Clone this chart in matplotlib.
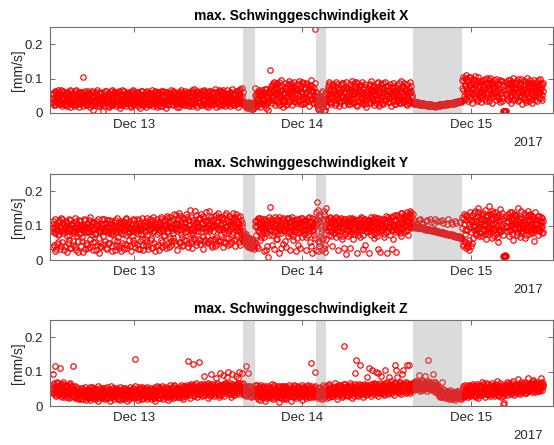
import matplotlib
matplotlib.use("Agg")
import matplotlib.pyplot as plt
import matplotlib.dates as mdates
import numpy as np
import pandas as pd

plt.rcParams['font.family'] = ['Liberation Sans', 'DejaVu Sans']

# two interleaved readings per 6 minutes (second one 3 min later), values in um/s (= 0.001 mm/s)
t_start = "2017-12-12 12:20"
t_step = "6min"
t_offset = "3min"

vx_um = [
    42, 28, 55, 36, 63, 22, 47, 58, 31, 66,
    25, 51, 39, 68, 19, 44, 60, 33, 53, 27,
    48, 62, 21, 37, 56, 45, 17, 64, 30, 50,
    35, 59, 26, 46, 67, 23, 40, 54, 18, 61,
    43, 29, 57, 34, 20, 104, 49, 65, 38, 24,
    52, 32, 63, 41, 16, 55, 27, 47, 60, 8,
    37, 58, 22, 45, 66, 30, 50, 19, 43, 62,
    26, 49, 35, 7, 57, 40, 21, 64, 33, 53,
    46, 18, 59, 29, 42, 67, 24, 38, 55, 31,
    61, 36, 20, 51, 44, 27, 63, 15, 48, 34,
    23, 56, 40, 65, 30, 47, 19, 58, 37, 52,
    41, 28, 62, 17, 53, 35, 66, 25, 45, 57,
    32, 50, 21, 60, 39, 14, 55, 43, 26, 64,
    48, 24, 58, 36, 18, 52, 63, 30, 41, 22,
    57, 33, 45, 67, 20, 49, 28, 61, 38, 16,
    44, 62, 25, 39, 54, 31, 65, 19, 47, 35,
    27, 53, 41, 15, 60, 37, 23, 56, 44, 68,
    50, 34, 64, 22, 46, 29, 58, 40, 18, 61,
    39, 17, 55, 43, 66, 26, 51, 32, 59, 24,
    63, 45, 28, 54, 37, 20, 62, 48, 31, 67,
    21, 57, 40, 69, 29, 52, 16, 44, 60, 35,
    47, 30, 63, 24, 56, 41, 68, 27, 50, 19,
    36, 62, 18, 49, 33, 65, 43, 22, 58, 39,
    54, 26, 70, 38, 17, 61, 31, 47, 25, 64,
    42, 58, 23, 52, 66, 35, 19, 56, 45, 29,
    67, 32, 48, 20, 60, 40, 71, 27, 53, 37,
    24, 55, 41, 64, 30, 18, 57, 46, 69, 33,
    49, 73, 34, 28, 22, 31, 19, 26, 14, 30,
    24, 17, 29, 12, 21, 27, 15, 23, 32, 72,
    38, 55, 21, 63, 44, 30, 58, 17, 49, 66,
    26, 52, 40, 69, 33, 15, 60, 45, 8, 57,
    71, 125, 47, 82, 29, 64, 90, 38, 75, 55,
    43, 86, 60, 24, 78, 51, 95, 35, 68, 18,
    62, 33, 88, 47, 72, 27, 57, 93, 40, 80,
    52, 76, 22, 65, 45, 89, 31, 70, 58, 84,
    37, 68, 92, 50, 26, 79, 61, 42, 87, 30,
    74, 46, 58, 85, 34, 66, 20, 81, 53, 96,
    41, 77, 63, 29, 88, 243, 45, 22, 58, 12,
    35, 8, 50, 27, 64, 16, 40, 5, 30, 55,
    20, 62, 44, 78, 31, 85, 56, 25, 70, 48,
    83, 37, 66, 52, 90, 28, 74, 43, 60, 19,
    58, 81, 34, 69, 46, 88, 23, 63, 39, 76,
    49, 26, 72, 55, 84, 35, 67, 92, 41, 57,
    30, 78, 61, 45, 87, 21, 53, 70, 36, 82,
    65, 42, 89, 27, 59, 75, 48, 16, 68, 51,
    38, 80, 56, 33, 71, 94, 44, 62, 24, 77,
    54, 29, 67, 86, 40, 58, 19, 73, 47, 83,
    72, 46, 25, 61, 90, 37, 79, 52, 31, 66,
    43, 85, 57, 20, 74, 49, 88, 34, 63, 27,
    60, 36, 81, 53, 28, 70, 45, 93, 39, 76,
    50, 87, 32, 68, 57, 22, 84, 41, 72, 59,
    35, 78, 63, 46, 30, 27, 33, 25, 31, 28,
    32, 26, 29, 24, 30, 27, 23, 28, 25, 29,
    24, 27, 22, 26, 21, 25, 23, 20, 26, 22,
    21, 24, 19, 23, 20, 22, 18, 24, 21, 23,
    22, 25, 21, 26, 23, 24, 22, 27, 24, 26,
    25, 28, 24, 29, 26, 27, 25, 30, 27, 29,
    28, 31, 27, 32, 29, 30, 28, 34, 31, 33,
    32, 35, 33, 37, 96, 68, 105, 42, 84, 58,
    110, 74, 36, 92, 61, 104, 48, 85, 30, 71,
    99, 55, 81, 108, 44, 67, 93, 38, 76, 60,
    86, 33, 70, 52, 97, 63, 41, 88, 57, 102,
    47, 79, 95, 35, 68, 54, 90, 28, 73, 61,
    83, 58, 39, 100, 66, 49, 87, 71, 31, 94,
    62, 45, 78, 6, 5, 7, 6, 91, 53, 84,
    37, 72, 96, 56, 29, 80, 64, 103, 42, 69,
    89, 51, 74, 34, 98, 60, 46, 82, 67, 27,
    58, 92, 40, 71, 85, 33, 63, 101, 50, 77,
    44, 68, 87, 55, 30, 79, 95, 48, 73, 61,
    90, 36, 65, 82, 57, 99, 43, 70, 52, 86,
]

vx2_um = [
    33, 57, 45, 24, 60, 39, 52, 29, 48, 35,
    61, 38, 26, 55, 47, 30, 64, 41, 22, 58,
    36, 27, 53, 44, 31, 66, 39, 25, 57, 42,
    50, 21, 63, 38, 29, 56, 47, 33, 62, 26,
    55, 37, 46, 61, 28, 43, 35, 52, 30, 59,
    24, 45, 38, 57, 33, 41, 64, 22, 36, 49,
    46, 29, 62, 34, 53, 21, 40, 57, 27, 35,
    59, 37, 44, 26, 48, 63, 31, 52, 42, 20,
    33, 54, 40, 63, 23, 51, 45, 28, 61, 39,
    27, 48, 57, 35, 60, 38, 22, 53, 41, 66,
    49, 32, 25, 51, 43, 58, 36, 44, 28, 61,
    55, 20, 47, 38, 63, 24, 42, 56, 33, 29,
    44, 61, 37, 27, 52, 48, 31, 65, 39, 23,
    36, 53, 29, 46, 62, 40, 25, 55, 33, 59,
    25, 48, 39, 30, 56, 36, 64, 44, 22, 51,
    58, 31, 52, 47, 21, 60, 41, 35, 63, 28,
    39, 62, 30, 56, 44, 25, 49, 35, 57, 42,
    27, 45, 53, 36, 61, 40, 32, 54, 26, 48,
    51, 34, 26, 60, 31, 45, 58, 22, 43, 55,
    35, 55, 41, 23, 62, 50, 33, 57, 39, 26,
    60, 28, 49, 36, 54, 24, 63, 33, 47, 56,
    32, 59, 22, 51, 38, 64, 34, 48, 62, 29,
    50, 27, 44, 65, 25, 53, 31, 60, 35, 46,
    28, 61, 39, 49, 57, 33, 52, 20, 66, 40,
    63, 34, 50, 29, 45, 59, 27, 48, 34, 55,
    41, 54, 26, 62, 35, 50, 30, 57, 44, 22,
    56, 38, 63, 25, 49, 42, 66, 31, 54, 45,
    36, 62, 27, 33, 20, 29, 24, 17, 28, 21,
    31, 20, 26, 16, 30, 22, 13, 28, 19, 52,
    47, 30, 62, 41, 26, 68, 35, 54, 28, 40,
    60, 37, 55, 23, 48, 71, 29, 52, 64, 34,
    58, 39, 77, 50, 86, 42, 69, 24, 61, 84,
    70, 53, 32, 91, 46, 63, 27, 79, 55, 41,
    36, 75, 59, 23, 66, 84, 49, 31, 72, 58,
    88, 40, 62, 79, 34, 57, 74, 45, 29, 67,
    55, 83, 36, 71, 60, 44, 90, 25, 69, 48,
    32, 62, 86, 41, 77, 52, 70, 37, 64, 43,
    68, 28, 51, 73, 39, 60, 33, 48, 15, 40,
    25, 44, 12, 58, 34, 20, 48, 28, 10, 38,
    42, 36, 71, 55, 90, 47, 64, 33, 81, 59,
    46, 68, 24, 77, 56, 41, 85, 53, 35, 70,
    28, 63, 50, 87, 37, 59, 72, 44, 91, 33,
    71, 38, 61, 43, 27, 76, 52, 31, 64, 86,
    54, 67, 24, 90, 48, 63, 36, 79, 57, 44,
    80, 33, 55, 70, 38, 84, 25, 61, 46, 72,
    62, 47, 29, 85, 53, 41, 76, 35, 67, 52,
    37, 74, 60, 45, 91, 27, 64, 50, 82, 30,
    56, 88, 41, 70, 34, 59, 48, 65, 77, 43,
    68, 31, 76, 48, 62, 35, 56, 79, 25, 54,
    45, 72, 39, 64, 87, 51, 29, 61, 74, 33,
    78, 42, 66, 26, 71, 46, 62, 53, 30, 89,
    60, 47, 52, 29, 33, 29, 27, 32, 26, 30,
    28, 31, 25, 28, 26, 30, 27, 24, 29, 26,
    25, 23, 27, 24, 22, 26, 21, 24, 23, 25,
    22, 20, 23, 21, 24, 19, 22, 20, 23, 21,
    24, 23, 25, 22, 26, 23, 25, 24, 26, 25,
    27, 26, 28, 25, 29, 27, 28, 26, 30, 28,
    30, 29, 31, 28, 32, 30, 33, 31, 32, 34,
    34, 33, 36, 35, 72, 92, 50, 78, 101, 40,
    63, 98, 55, 80, 106, 42, 75, 96, 57, 88,
    73, 48, 95, 62, 86, 35, 104, 57, 82, 50,
    64, 92, 45, 80, 58, 75, 99, 36, 69, 84,
    88, 54, 71, 101, 43, 85, 62, 78, 49, 96,
    57, 76, 91, 46, 83, 62, 40, 97, 55, 74,
    93, 35, 68, 7, 6, 6, 59, 80, 44, 97,
    60, 86, 47, 78, 65, 91, 38, 74, 58, 83,
    45, 69, 92, 57, 76, 38, 87, 52, 99, 64,
    80, 47, 66, 93, 39, 74, 55, 86, 61, 35,
    96, 58, 77, 42, 88, 63, 50, 83, 37, 70,
    54, 78, 97, 45, 72, 61, 88, 38, 80, 65,
]

vy_um = [
    92, 38, 105, 81, 27, 118, 88, 46, 99, 74,
    110, 85, 33, 96, 120, 52, 78, 102, 41, 90,
    83, 24, 107, 94, 58, 72, 115, 36, 88, 101,
    45, 97, 79, 121, 30, 86, 104, 55, 93, 76,
    113, 40, 91, 68, 100, 22, 84, 117, 49, 95,
    80, 106, 35, 89, 124, 61, 98, 73, 28, 109,
    94, 53, 77, 112, 43, 87, 103, 19, 96, 82,
    37, 101, 90, 71, 119, 56, 84, 108, 32, 97,
    85, 116, 48, 93, 75, 26, 104, 88, 59, 111,
    99, 42, 82, 122, 66, 95, 34, 107, 79, 91,
    50, 114, 87, 31, 100, 73, 118, 44, 92, 105,
    78, 96, 25, 109, 84, 57, 120, 90, 38, 98,
    103, 47, 93, 76, 115, 33, 86, 101, 62, 89,
    29, 110, 80, 97, 52, 123, 74, 41, 106, 94,
    88, 64, 117, 36, 99, 83, 108, 27, 92, 76,
    119, 45, 95, 81, 105, 58, 125, 39, 87, 100,
    71, 102, 34, 93, 128, 49, 85, 111, 63, 97,
    43, 96, 120, 78, 55, 107, 89, 132, 30, 104,
    91, 138, 50, 86, 113, 67, 99, 44, 118, 82,
    108, 57, 94, 126, 39, 101, 75, 145, 48, 92,
    35, 115, 88, 60, 104, 130, 52, 97, 84, 121,
    99, 46, 135, 80, 109, 31, 94, 123, 58, 87,
    112, 71, 53, 102, 141, 89, 44, 117, 95, 62,
    84, 127, 40, 98, 66, 110, 136, 54, 91, 105,
    56, 93, 119, 38, 107, 82, 131, 49, 100, 115,
    97, 64, 128, 90, 47, 113, 76, 104, 138, 59,
    120, 42, 88, 109, 70, 125, 51, 96, 83, 116,
    62, 100, 78, 70, 58, 66, 48, 75, 40, 55,
    45, 63, 38, 52, 35, 60, 42, 50, 33, 112,
    98, 74, 115, 88, 36, 106, 93, 121, 67, 102,
    85, 110, 27, 96, 119, 79, 104, 41, 9, 90,
    108, 154, 87, 72, 116, 95, 33, 101, 124, 83,
    94, 62, 112, 89, 20, 105, 78, 118, 99, 46,
    117, 86, 100, 38, 92, 123, 70, 96, 110, 81,
    75, 103, 91, 115, 58, 84, 107, 25, 97, 120,
    99, 43, 109, 80, 122, 94, 66, 113, 88, 104,
    87, 116, 30, 98, 74, 106, 125, 52, 92, 111,
    19, 100, 83, 118, 95, 64, 140, 168, 105, 25,
    130, 40, 110, 70, 90, 60, 118, 35, 135, 22,
    150, 101, 88, 117, 73, 97, 124, 85, 109, 40,
    93, 112, 79, 121, 66, 103, 88, 115, 28, 98,
    84, 107, 96, 62, 119, 90, 104, 76, 111, 17,
    102, 70, 116, 87, 99, 35, 110, 82, 121, 94,
    77, 113, 91, 105, 20, 97, 86, 118, 68, 101,
    108, 88, 123, 74, 100, 115, 43, 93, 106, 81,
    95, 19, 104, 117, 85, 72, 111, 98, 126, 64,
    112, 89, 78, 101, 122, 33, 96, 108, 83, 117,
    86, 103, 119, 67, 94, 110, 80, 21, 125, 99,
    116, 74, 97, 106, 88, 128, 61, 102, 90, 113,
    22, 99, 131, 84, 109, 93, 120, 70, 105, 136,
    95, 118, 81, 127, 102, 140, 88, 112, 133, 97,
    121, 104, 138, 92, 99, 97, 115, 96, 94, 108,
    97, 95, 117, 93, 96, 92, 94, 110, 91, 93,
    90, 92, 88, 112, 89, 91, 87, 90, 119, 86,
    88, 85, 87, 84, 108, 86, 83, 85, 82, 114,
    83, 80, 82, 79, 81, 116, 78, 80, 77, 79,
    76, 78, 105, 75, 77, 74, 76, 73, 111, 75,
    72, 70, 73, 69, 71, 68, 107, 70, 67, 69,
    66, 64, 67, 63, 92, 118, 41, 105, 76, 130,
    35, 88, 48, 122, 30, 97, 139, 42, 110, 65,
    115, 86, 142, 101, 73, 128, 94, 150, 80, 107,
    96, 133, 69, 118, 104, 86, 145, 77, 124, 91,
    128, 82, 110, 156, 93, 120, 65, 102, 137, 88,
    106, 140, 75, 97, 125, 53, 113, 89, 148, 99,
    84, 118, 92, 12, 10, 14, 11, 127, 96, 134,
    112, 71, 139, 103, 86, 122, 58, 108, 95, 130,
    90, 126, 81, 114, 152, 97, 68, 119, 104, 85,
    121, 94, 107, 63, 131, 88, 116, 99, 143, 76,
    100, 134, 87, 111, 79, 125, 93, 56, 118, 105,
    92, 117, 72, 103, 128, 86, 110, 97, 122, 80,
]

vy2_um = [
    85, 112, 44, 97, 79, 31, 104, 90, 52, 116,
    75, 98, 121, 40, 88, 107, 83, 29, 95, 113,
    99, 70, 87, 48, 118, 93, 35, 102, 80, 55,
    108, 84, 37, 96, 112, 71, 24, 89, 117, 100,
    78, 103, 92, 55, 86, 120, 97, 33, 81, 106,
    45, 95, 116, 82, 39, 99, 87, 111, 53, 90,
    110, 79, 28, 101, 92, 118, 64, 85, 42, 104,
    93, 120, 84, 47, 106, 88, 35, 97, 115, 78,
    50, 96, 105, 82, 114, 40, 92, 75, 99, 30,
    117, 86, 55, 101, 91, 44, 113, 83, 26, 108,
    95, 77, 104, 46, 89, 121, 36, 98, 83, 58,
    112, 42, 91, 103, 70, 87, 50, 116, 94, 80,
    86, 119, 31, 99, 108, 55, 92, 76, 122, 43,
    102, 88, 60, 114, 45, 95, 110, 33, 90, 118,
    57, 101, 93, 82, 125, 49, 104, 96, 40, 111,
    90, 107, 29, 98, 86, 119, 53, 92, 113, 74,
    115, 45, 104, 121, 80, 98, 37, 126, 94, 55,
    87, 112, 64, 101, 135, 93, 47, 109, 83, 118,
    52, 99, 127, 77, 106, 40, 121, 94, 59, 110,
    96, 133, 84, 49, 115, 102, 88, 56, 124, 79,
    107, 73, 98, 141, 45, 111, 92, 62, 118, 100,
    58, 122, 92, 104, 69, 128, 51, 113, 97, 140,
    93, 48, 116, 85, 108, 59, 125, 101, 38, 99,
    119, 103, 62, 132, 94, 47, 112, 87, 126, 56,
    101, 76, 124, 91, 55, 118, 97, 137, 63, 88,
    45, 110, 85, 102, 121, 52, 95, 117, 80, 125,
    99, 133, 61, 92, 114, 88, 106, 43, 129, 77,
    108, 55, 85, 64, 72, 52, 68, 44, 62, 38,
    57, 47, 65, 36, 54, 44, 58, 37, 48, 98,
    113, 40, 96, 122, 81, 109, 58, 100, 118, 77,
    94, 117, 66, 104, 88, 30, 112, 97, 125, 72,
    100, 86, 119, 44, 97, 108, 81, 115, 62, 105,
    118, 79, 96, 125, 87, 102, 35, 110, 91, 123,
    84, 109, 55, 103, 118, 79, 99, 121, 28, 95,
    112, 89, 126, 71, 104, 95, 117, 86, 108, 64,
    80, 118, 97, 36, 110, 85, 123, 100, 75, 114,
    104, 66, 115, 89, 121, 94, 83, 110, 40, 98,
    122, 91, 107, 73, 113, 101, 30, 120, 55, 145,
    50, 125, 80, 100, 28, 112, 65, 142, 45, 95,
    60, 118, 95, 107, 84, 121, 99, 70, 114, 88,
    119, 79, 104, 92, 126, 84, 110, 97, 118, 73,
    101, 123, 69, 112, 97, 108, 35, 118, 90, 105,
    85, 111, 96, 123, 75, 103, 118, 91, 60, 114,
    120, 94, 110, 82, 117, 101, 73, 108, 95, 126,
    91, 104, 33, 116, 89, 98, 120, 84, 113, 100,
    116, 83, 109, 92, 125, 101, 88, 119, 76, 107,
    97, 121, 104, 71, 110, 92, 118, 24, 103, 89,
    108, 93, 76, 118, 100, 127, 96, 114, 85, 120,
    92, 110, 124, 87, 31, 103, 117, 95, 130, 82,
    119, 86, 105, 125, 96, 78, 112, 138, 89, 118,
    108, 131, 99, 84, 122, 113, 74, 125, 104, 142,
    95, 128, 110, 135, 100, 98, 96, 113, 95, 97,
    96, 94, 95, 118, 93, 95, 92, 94, 106, 91,
    91, 89, 90, 88, 115, 89, 86, 88, 87, 110,
    86, 87, 84, 86, 83, 118, 84, 82, 83, 81,
    81, 82, 112, 80, 78, 81, 79, 109, 78, 77,
    77, 75, 76, 119, 74, 75, 72, 74, 73, 106,
    71, 69, 72, 70, 113, 68, 69, 67, 68, 66,
    65, 110, 64, 62, 125, 47, 135, 88, 52, 115,
    45, 128, 37, 104, 58, 115, 82, 132, 50, 98,
    136, 95, 122, 79, 113, 88, 140, 104, 69, 119,
    110, 78, 127, 90, 138, 99, 115, 62, 106, 131,
    75, 117, 99, 134, 84, 108, 143, 92, 120, 70,
    124, 91, 118, 67, 103, 132, 86, 116, 80, 127,
    102, 137, 74, 13, 12, 11, 95, 112, 83, 121,
    88, 125, 99, 117, 140, 76, 103, 135, 90, 114,
    130, 106, 72, 98, 121, 110, 89, 142, 78, 101,
    84, 112, 136, 92, 105, 74, 127, 93, 110, 131,
    116, 82, 102, 128, 95, 119, 87, 106, 140, 90,
    107, 129, 94, 83, 113, 101, 124, 79, 99, 112,
]

vz_um = [
    45, 62, 93, 38, 57, 116, 29, 68, 50, 41,
    55, 34, 110, 63, 47, 26, 71, 42, 58, 36,
    48, 30, 60, 39, 52, 24, 66, 44, 35, 57,
    116, 28, 47, 22, 40, 55, 31, 19, 45, 37,
    26, 43, 34, 52, 20, 38, 48, 29, 41, 17,
    36, 24, 46, 31, 55, 18, 40, 27, 50, 33,
    44, 21, 35, 49, 28, 38, 15, 43, 32, 53,
    30, 47, 23, 37, 42, 19, 51, 34, 26, 40,
    22, 39, 48, 16, 33, 45, 27, 52, 36, 29,
    41, 25, 34, 50, 20, 38, 44, 18, 31, 47,
    35, 53, 28, 40, 24, 46, 32, 14, 43, 37,
    19, 42, 33, 48, 27, 36, 51, 22, 39, 137,
    45, 26, 38, 17, 49, 31, 41, 28, 54, 34,
    23, 40, 30, 46, 35, 20, 44, 37, 25, 50,
    38, 52, 21, 33, 43, 27, 48, 16, 36, 42,
    29, 45, 37, 55, 24, 39, 31, 47, 20, 41,
    50, 33, 26, 44, 36, 18, 53, 30, 46, 28,
    35, 48, 40, 22, 57, 38, 27, 45, 32, 52,
    43, 25, 55, 36, 30, 49, 41, 19, 58, 34,
    28, 51, 38, 46, 130, 33, 56, 24, 44, 60,
    39, 123, 48, 30, 62, 41, 25, 53, 36, 128,
    57, 34, 46, 65, 28, 52, 40, 88, 33, 59,
    45, 63, 22, 50, 37, 58, 92, 31, 55, 42,
    61, 29, 48, 82, 40, 66, 35, 53, 25, 97,
    38, 56, 44, 62, 90, 30, 51, 68, 43, 85,
    52, 99, 34, 58, 46, 27, 64, 94, 39, 55,
    31, 49, 86, 60, 42, 67, 100, 36, 54, 46,
    63, 97, 41, 50, 35, 57, 28, 115, 48, 95,
    38, 52, 30, 45, 26, 55, 34, 48, 42, 36,
    29, 47, 60, 21, 40, 53, 33, 17, 45, 56,
    42, 25, 36, 58, 14, 49, 31, 44, 27, 52,
    34, 55, 22, 40, 48, 19, 61, 37, 30, 46,
    50, 28, 43, 12, 54, 35, 24, 47, 39, 57,
    26, 45, 59, 33, 20, 51, 41, 30, 62, 38,
    47, 16, 38, 53, 29, 44, 57, 23, 36, 49,
    32, 58, 41, 25, 50, 35, 18, 54, 43, 28,
    55, 37, 22, 48, 31, 60, 40, 27, 46, 126,
    34, 51, 25, 43, 57, 98, 30, 47, 38, 22,
    45, 29, 52, 36, 20, 48, 33, 55, 27, 41,
    58, 39, 24, 50, 44, 63, 31, 47, 36, 55,
    28, 52, 41, 66, 35, 45, 20, 59, 48, 38,
    61, 33, 49, 26, 55, 43, 174, 37, 64, 46,
    40, 57, 30, 52, 68, 36, 47, 23, 59, 44,
    53, 95, 38, 134, 46, 62, 29, 50, 120, 41,
    35, 58, 48, 27, 65, 43, 54, 32, 61, 85,
    47, 110, 56, 39, 63, 30, 105, 51, 44, 67,
    58, 100, 34, 53, 42, 95, 60, 37, 49, 86,
    40, 64, 52, 31, 57, 105, 45, 69, 36, 55,
    62, 43, 50, 73, 38, 58, 47, 33, 66, 120,
    105, 85, 54, 41, 60, 48, 70, 35, 57, 92,
    105, 45, 63, 52, 39, 68, 118, 56, 44, 120,
    37, 60, 49, 65, 55, 68, 48, 72, 58, 63,
    50, 66, 57, 90, 45, 70, 53, 61, 74, 47,
    59, 88, 52, 67, 44, 63, 134, 56, 71, 49,
    62, 46, 58, 92, 51, 69, 42, 60, 55, 38,
    45, 30, 52, 25, 40, 35, 70, 28, 47, 33,
    22, 38, 30, 44, 26, 35, 19, 41, 32, 27,
    36, 24, 42, 29, 18, 39, 31, 45, 23, 34,
    28, 40, 21, 33, 47, 30, 58, 25, 43, 36,
    52, 34, 46, 27, 60, 39, 55, 31, 48, 65,
    41, 57, 29, 50, 36, 63, 44, 22, 54, 38,
    60, 33, 47, 70, 40, 53, 26, 58, 45, 35,
    49, 64, 37, 55, 30, 46, 67, 42, 59, 28,
    36, 52, 61, 41, 74, 33, 50, 44, 57, 25,
    55, 43, 30, 5, 48, 62, 38, 53, 69, 40,
    46, 66, 52, 35, 58, 42, 73, 49, 31, 61,
    60, 38, 50, 78, 44, 56, 36, 65, 47, 54,
    42, 63, 55, 48, 71, 39, 59, 52, 82, 45,
    58, 47, 66, 40, 53, 75, 44, 62, 50, 68,
    51, 70, 45, 59, 64, 48, 80, 55, 61, 57,
]

vz2_um = [
    52, 38, 66, 47, 31, 59, 43, 70, 36, 55,
    44, 61, 29, 52, 40, 65, 33, 49, 27, 60,
    37, 55, 45, 27, 63, 41, 50, 32, 58, 42,
    30, 49, 38, 57, 26, 44, 35, 52, 24, 46,
    40, 21, 53, 35, 45, 28, 56, 33, 47, 25,
    29, 50, 37, 22, 43, 48, 32, 54, 23, 42,
    51, 34, 27, 45, 39, 57, 24, 36, 46, 30,
    38, 25, 53, 29, 47, 33, 41, 22, 55, 35,
    46, 30, 36, 57, 25, 41, 50, 34, 19, 44,
    28, 52, 43, 24, 47, 32, 56, 37, 45, 23,
    42, 20, 48, 34, 53, 29, 39, 50, 27, 46,
    33, 55, 26, 41, 36, 49, 25, 44, 57, 31,
    38, 47, 30, 55, 24, 42, 36, 51, 21, 45,
    49, 32, 53, 27, 41, 56, 29, 48, 39, 33,
    31, 45, 28, 50, 37, 22, 54, 33, 46, 57,
    43, 24, 51, 33, 47, 36, 58, 26, 40, 34,
    37, 56, 41, 29, 52, 45, 33, 61, 24, 49,
    55, 28, 47, 60, 32, 44, 53, 36, 49, 27,
    31, 48, 37, 52, 62, 26, 45, 57, 35, 50,
    54, 39, 62, 31, 45, 58, 40, 49, 64, 37,
    47, 58, 33, 55, 44, 66, 38, 50, 59, 45,
    36, 62, 52, 41, 57, 33, 64, 47, 55, 38,
    58, 40, 66, 45, 30, 61, 49, 36, 63, 52,
    43, 55, 35, 60, 52, 44, 58, 31, 47, 62,
    60, 33, 52, 41, 65, 48, 37, 57, 64, 46,
    38, 61, 47, 68, 35, 56, 43, 62, 50, 33,
    57, 44, 65, 37, 53, 82, 46, 59, 64, 40,
    49, 66, 55, 31, 46, 38, 52, 44, 33, 58,
    45, 29, 57, 40, 35, 50, 28, 43, 37, 61,
    53, 35, 27, 49, 58, 32, 45, 62, 38, 25,
    36, 55, 44, 30, 52, 23, 41, 57, 34, 48,
    50, 28, 45, 63, 33, 56, 42, 25, 52, 38,
    31, 59, 36, 47, 26, 44, 58, 33, 21, 49,
    55, 37, 24, 51, 43, 32, 48, 56, 35, 28,
    40, 52, 45, 27, 61, 38, 30, 47, 55, 35,
    48, 25, 55, 44, 37, 60, 46, 33, 51, 40,
    29, 50, 42, 57, 36, 26, 53, 45, 35, 59,
    46, 38, 55, 30, 42, 33, 49, 28, 52, 37,
    30, 55, 40, 24, 48, 38, 60, 32, 45, 35,
    42, 50, 33, 61, 27, 52, 45, 38, 56, 30,
    51, 36, 55, 43, 58, 30, 49, 40, 62, 35,
    44, 58, 37, 50, 29, 63, 41, 52, 33, 57,
    59, 32, 48, 41, 55, 46, 61, 38, 52, 28,
    37, 63, 45, 56, 33, 50, 43, 65, 35, 54,
    60, 41, 53, 46, 34, 57, 49, 62, 40, 48,
    36, 52, 45, 61, 50, 42, 35, 58, 63, 45,
    50, 63, 42, 55, 30, 48, 68, 44, 57, 39,
    62, 45, 58, 35, 66, 52, 39, 60, 47, 85,
    40, 55, 64, 48, 57, 43, 66, 52, 45, 61,
    55, 48, 62, 50, 38, 67, 53, 60, 44, 65,
    47, 60, 51, 71, 56, 42, 58, 65, 50, 63,
    53, 44, 66, 50, 62, 52, 70, 57, 66, 50,
    73, 55, 62, 48, 68, 58, 76, 52, 65, 59,
    64, 53, 70, 60, 56, 74, 50, 66, 58, 68,
    55, 65, 48, 71, 60, 52, 64, 45, 57, 50,
    38, 48, 32, 44, 27, 41, 36, 50, 30, 39,
    33, 25, 43, 31, 38, 24, 46, 29, 36, 21,
    29, 40, 33, 22, 37, 27, 43, 35, 26, 40,
    33, 24, 38, 30, 38, 52, 35, 62, 29, 49,
    40, 57, 33, 50, 43, 28, 62, 45, 37, 54,
    50, 32, 61, 45, 27, 54, 38, 59, 46, 31,
    41, 56, 37, 49, 63, 34, 52, 44, 67, 39,
    56, 33, 51, 44, 60, 38, 48, 57, 35, 53,
    46, 63, 39, 52, 44, 58, 30, 66, 49, 40,
    38, 60, 47, 8, 36, 53, 45, 64, 33, 57,
    52, 41, 60, 48, 39, 67, 55, 44, 62, 50,
    45, 58, 42, 63, 53, 38, 61, 49, 70, 57,
    55, 48, 67, 39, 62, 52, 45, 64, 51, 60,
    49, 63, 54, 72, 46, 58, 67, 41, 60, 55,
    62, 50, 58, 45, 68, 55, 52, 70, 48, 64,
]

# periods without valid measurement (shaded)
gap_start = ["2017-12-13 15:29", "2017-12-14 01:57", "2017-12-14 15:43"]
gap_end = ["2017-12-13 17:14", "2017-12-14 03:23", "2017-12-14 22:40"]

components = ["X", "Y", "Z"]
series = [(vx_um, vx2_um), (vy_um, vy2_um), (vz_um, vz2_um)]

fig = plt.figure(figsize=(5.54, 4.45), dpi=100)
bottoms = [0.7461, 0.4157, 0.0876]

for comp, (vals_a, vals_b), b in zip(components, series, bottoms):
    ax = fig.add_axes([0.0894, b, 0.9086, 0.1933])
    t_a = pd.date_range(t_start, periods=len(vals_a), freq=t_step)
    t_b = t_a[:len(vals_b)] + pd.Timedelta(t_offset)
    for t, vals in ((t_a, vals_a), (t_b, vals_b)):
        ax.plot(t, np.array(vals) / 1000.0, 'o', ls='none', mfc='none', mec='red',
                ms=3.9, mew=0.85, zorder=2)
    for s, e in zip(gap_start, gap_end):
        ax.axvspan(pd.Timestamp(s), pd.Timestamp(e), color='#8a8a8a', alpha=0.3, lw=0, zorder=3)

    ax.set_xlim(pd.Timestamp("2017-12-12 12:00"), pd.Timestamp("2017-12-15 11:40"))
    ax.set_ylim(0, 0.25)
    ax.set_yticks([0, 0.1, 0.2])
    ax.set_yticklabels(['0', '0.1', '0.2'])
    ax.xaxis.set_major_locator(mdates.DayLocator())
    ax.xaxis.set_major_formatter(mdates.DateFormatter('%b %d'))

    ax.tick_params(direction='in', length=3.5, width=0.7, top=True, right=True,
                   labelsize=9.5, colors='#6e6e6e', labelcolor='#262626', pad=4.5)
    for sp in ax.spines.values():
        sp.set_color('#6e6e6e')
        sp.set_linewidth(0.8)

    ax.set_title(f"max. Schwinggeschwindigkeit {comp}", fontsize=10, fontweight='bold', pad=5)
    ax.set_ylabel('[mm/s]', fontsize=10, color='#262626', va='center')
    ax.yaxis.set_label_coords(-0.062, 0.5)
    ax.text(0.98, -0.35, '2017', transform=ax.transAxes, ha='right', va='center',
            fontsize=9.5, color='#262626')

fig.savefig('out.png', dpi=100)
